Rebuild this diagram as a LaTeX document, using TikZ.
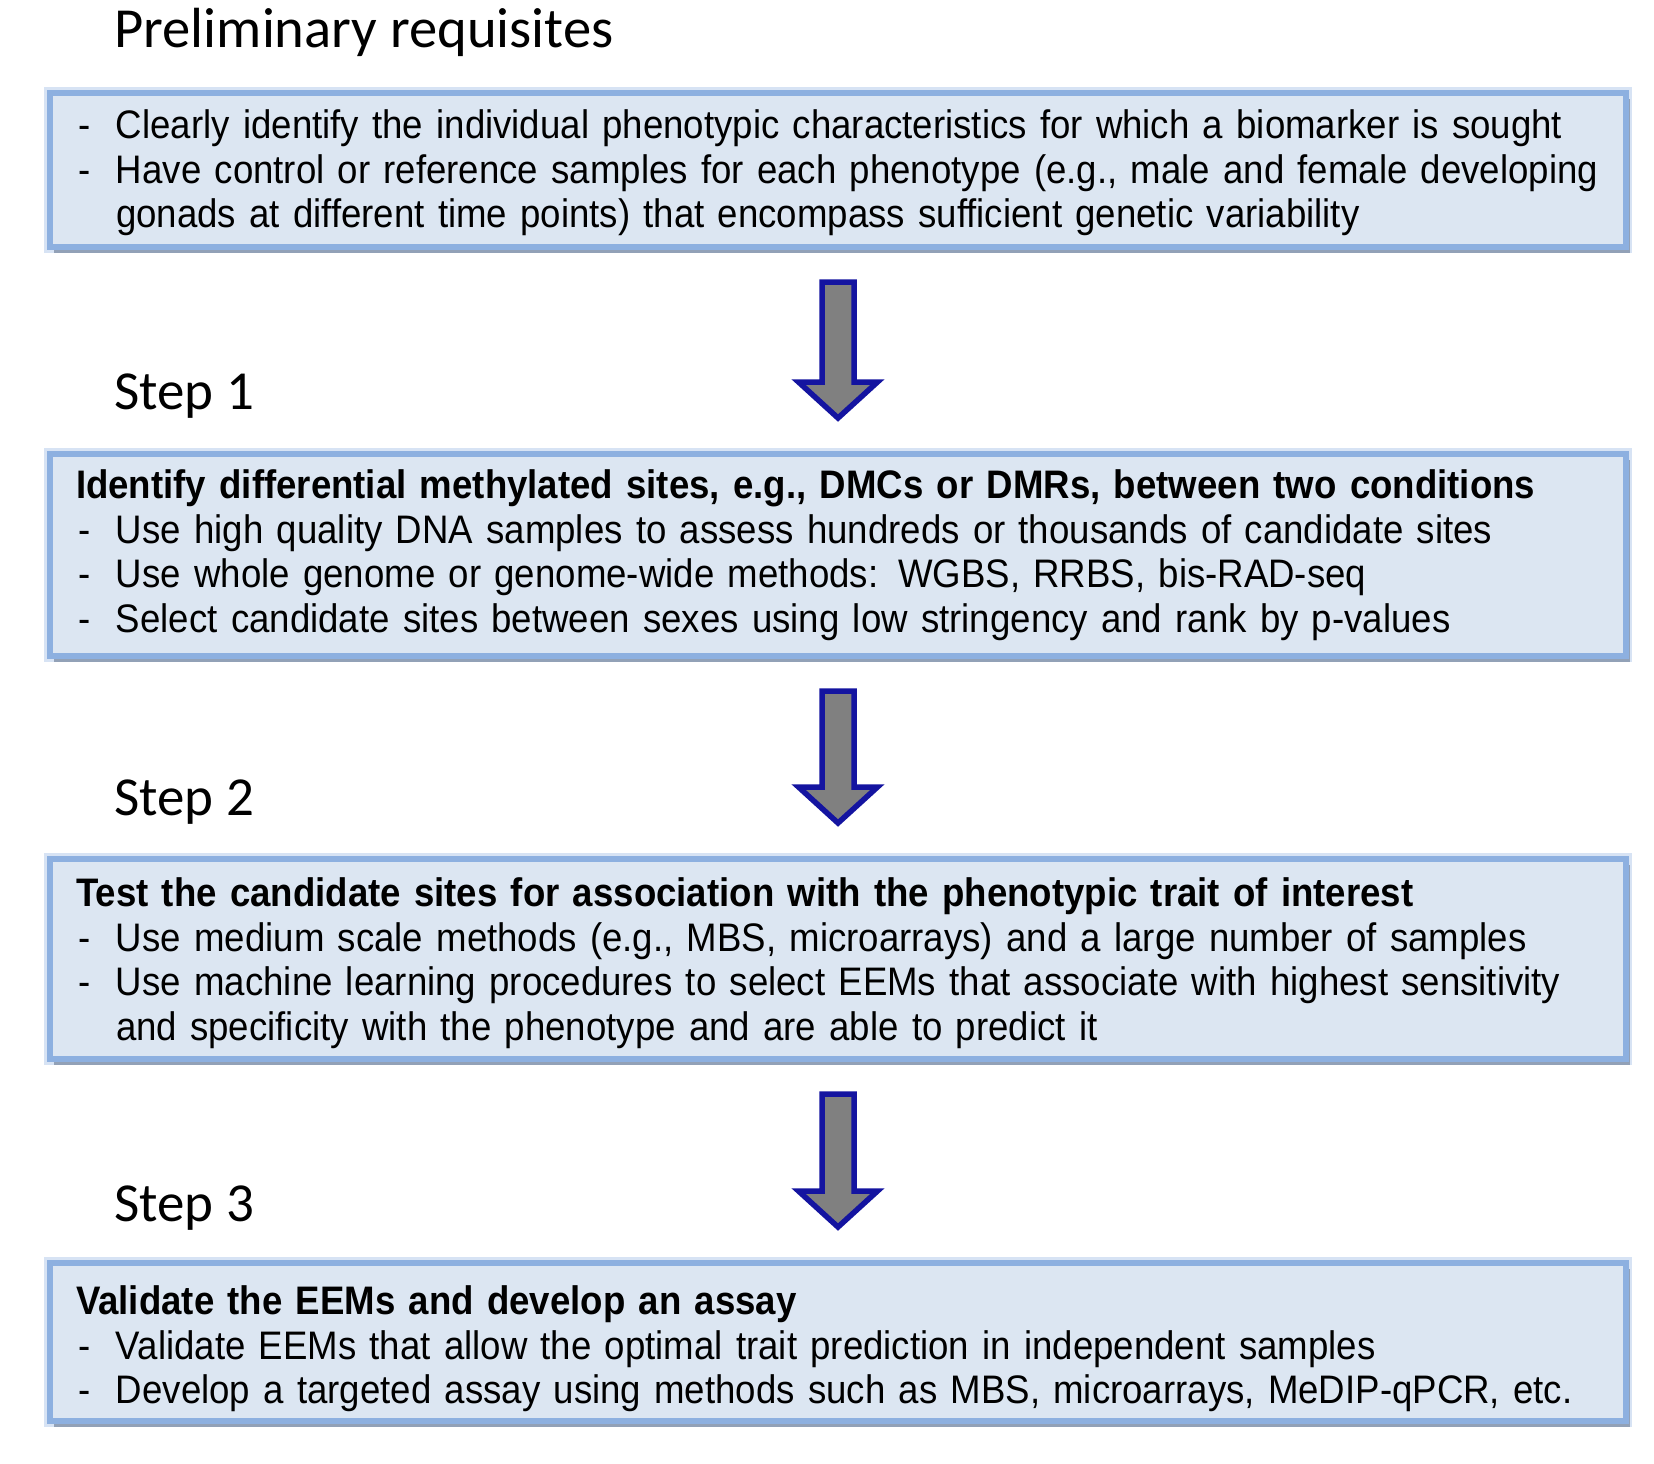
\documentclass[tikz,border=0pt]{standalone}
\usepackage{fontspec}
\newfontfamily\headfont{Carlito}
\newfontfamily\boxfont[FakeStretch=0.92,WordSpace=1.6]{Liberation Sans}
\usetikzlibrary{calc}
\usetikzlibrary{shadows}

\definecolor{boxfill}{RGB}{220,230,242}
\definecolor{boxedge}{RGB}{141,176,224}
\definecolor{arrowfill}{RGB}{128,128,128}
\definecolor{arrowedge}{RGB}{20,20,160}

% dash of a list line, the indent of a line that runs on, and room above a first line
\newcommand{\dashitem}{\makebox[20pt][l]{\hspace{1pt}-}}
\newcommand{\contline}{\hspace*{20pt}}
\newcommand{\topgap}[1]{\rule{0pt}{#1}}

% fat down arrow from one box to the next
\newcommand{\bigdown}[2]{%
  \path ($(#1.south)!16pt!(#2.north)$) coordinate (#1top)
        ($(#2.north)!16.5pt!(#1.south)$) coordinate (#1tip);
  \draw [fatarrow] ($(#1top)+(-8pt,0pt)$) -- ($(#1top)+(8pt,0pt)$)
    -- ($(#1tip)+(8pt,18pt)$) -- ($(#1tip)+(19.75pt,18pt)$) -- (#1tip)
    -- ($(#1tip)+(-19.75pt,18pt)$) -- ($(#1tip)+(-8pt,18pt)$) -- cycle;}

\begin{document}
\begin{tikzpicture}[x=0.5pt,y=-0.5pt,
    stepbox/.style={rectangle, fill=boxfill, draw=boxedge, line width=3pt,
      preaction={draw=boxedge, line width=6pt, opacity=0.35},
      minimum width=788pt, text width=762pt, inner xsep=13pt, align=left,
      drop shadow={shadow xshift=2pt, shadow yshift=-3pt, fill=black!45!boxedge, opacity=0.5},
      font=\boxfont\fontsize{19.9}{22.25}\selectfont},
    steplabel/.style={anchor=base west, inner sep=0pt,
      font=\headfont\fontsize{27.5}{33}\selectfont},
    fatarrow/.style={fill=arrowfill, draw=arrowedge, line width=2.75pt, line join=miter}]

    \fill [white] (0,0) rectangle (1654,1463);
    \useasboundingbox (0,0) rectangle (1654,1463);

    % Headings:
    \node [steplabel, font=\headfont\fontsize{28.3}{34}\selectfont] (prelimlabel) at (114,47) {Preliminary requisites};
    \node [steplabel] (steponelabel) at (114,409) {Step 1};
    \node [steplabel] (steptwolabel) at (114,815) {Step 2};
    \node [steplabel] (stepthreelabel) at (114,1221) {Step 3};

    % Boxes:
    \node [stepbox, minimum height=77pt] (prelim) at (838,170) {%
      \topgap{17.5pt}\dashitem Clearly identify the individual phenotypic characteristics for which a biomarker is sought\\
      \dashitem Have control or reference samples for each phenotype (e.g., male and female developing\\
      \contline gonads at different time points) that encompass sufficient genetic variability};
    \node [stepbox, minimum height=101pt] (stepone) at (838,555) {%
      \textbf{Identify differential methylated sites, e.g., DMCs or DMRs, between two conditions}\\
      \dashitem Use high quality DNA samples to assess hundreds or thousands of candidate sites\\
      \dashitem Use whole genome or genome-wide methods: WGBS, RRBS, bis-RAD-seq\\
      \dashitem Select candidate sites between sexes using low stringency and rank by p-values};
    \node [stepbox, minimum height=100pt] (steptwo) at (838,959) {%
      \topgap{18.5pt}\textbf{Test the candidate sites for association with the phenotypic trait of interest}\\
      \dashitem Use medium scale methods (e.g., MBS, microarrays) and a large number of samples\\
      \dashitem Use machine learning procedures to select EEMs that associate with highest sensitivity\\
      \contline and specificity with the phenotype and are able to predict it};
    \node [stepbox, minimum height=79pt] (stepthree) at (838,1342) {%
      \topgap{21.5pt}\textbf{Validate the EEMs and develop an assay}\\
      \dashitem Validate EEMs that allow the optimal trait prediction in independent samples\\
      \dashitem Develop a targeted assay using methods such as MBS, microarrays, MeDIP-qPCR, etc.};

    % Arrows:
    \foreach \a/\b in {prelim/stepone, stepone/steptwo, steptwo/stepthree}{%
        \bigdown{\a}{\b}
    }
\end{tikzpicture}
\end{document}
